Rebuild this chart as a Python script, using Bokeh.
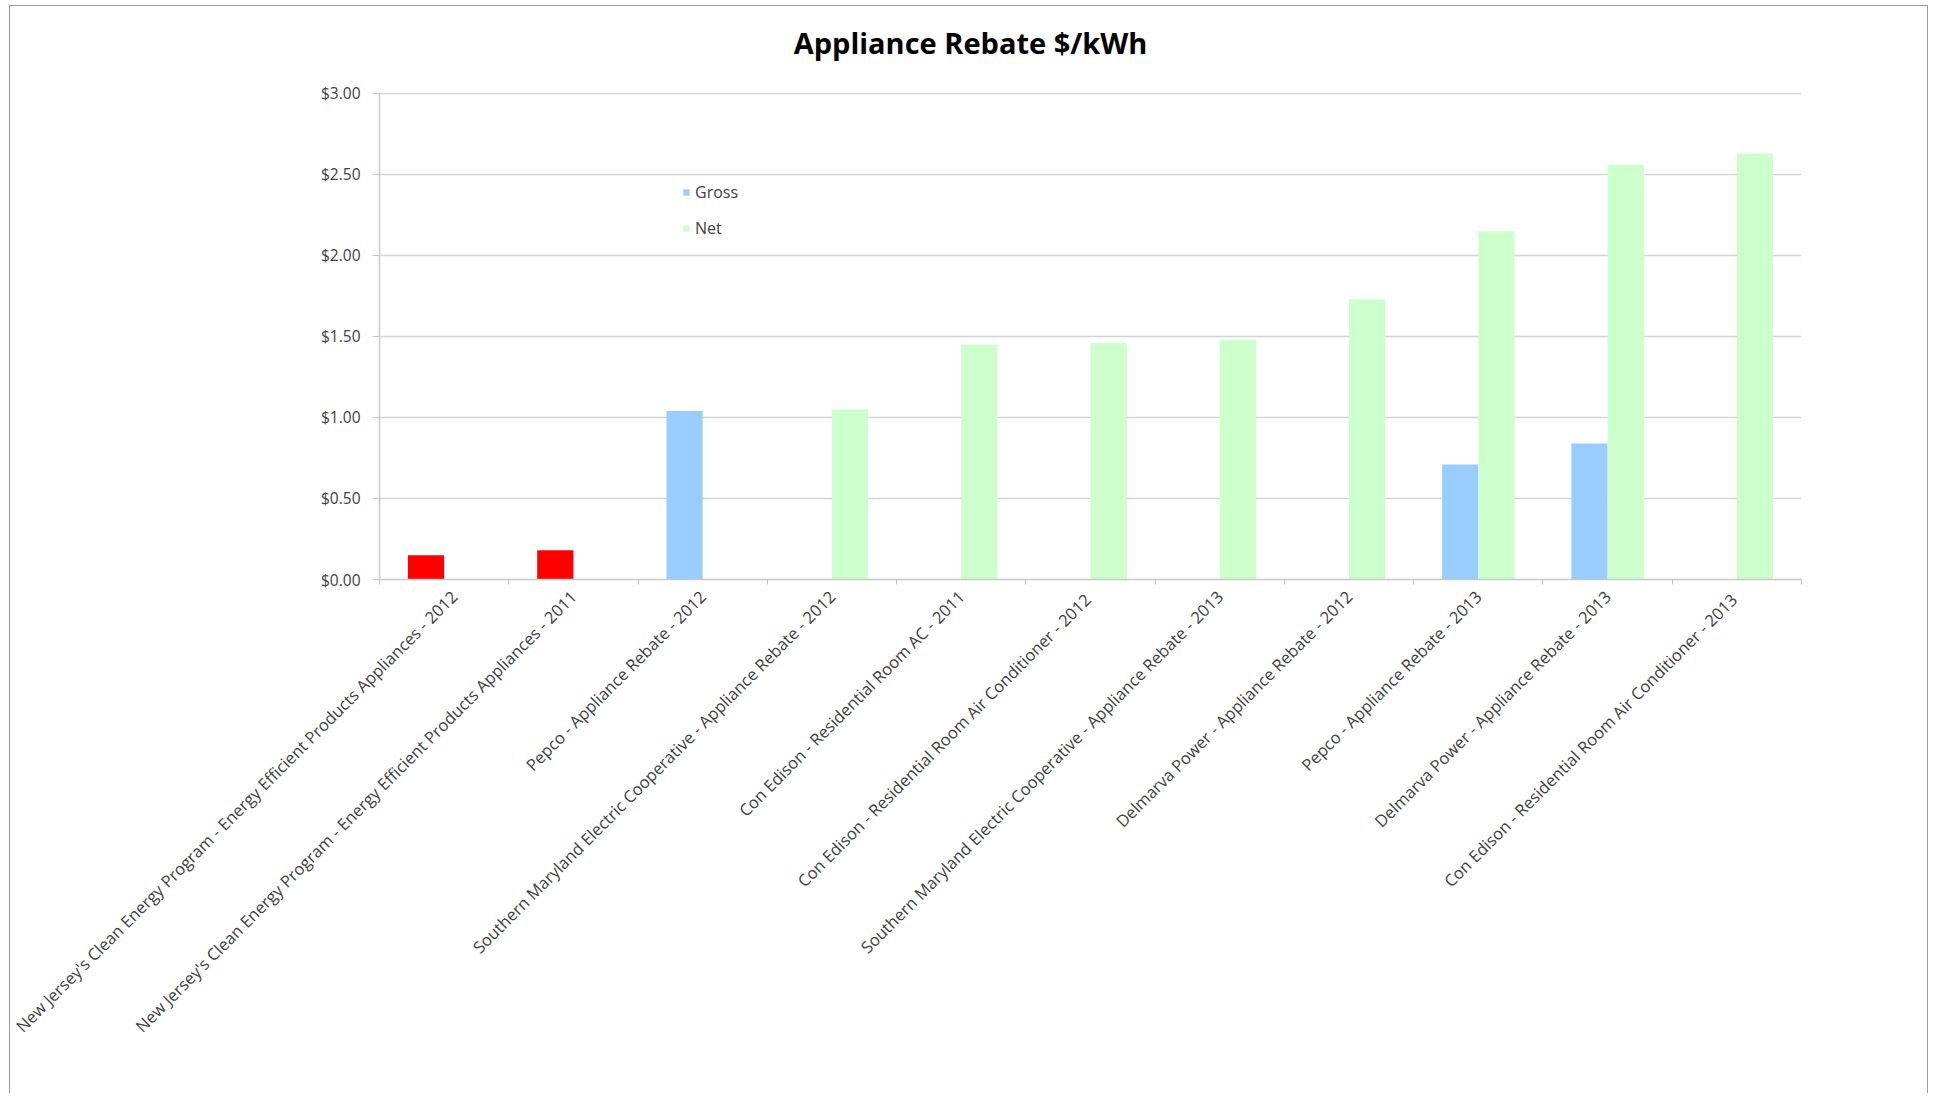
import numpy as np
from bokeh.plotting import figure
from bokeh.models import (FixedTicker, NumeralTickFormatter, Legend, LegendItem,
                          ColumnDataSource, Range1d, Label)
from bokeh.embed import file_html
from bokeh.resources import INLINE

title_text = "Appliance Rebate $/kWh"
categories = [
    "New Jersey's Clean Energy Program - Energy Efficient Products Appliances - 2012",
    "New Jersey's Clean Energy Program - Energy Efficient Products Appliances - 2011",
    "Pepco - Appliance Rebate - 2012",
    "Southern Maryland Electric Cooperative - Appliance Rebate - 2012",
    "Con Edison - Residential Room AC - 2011",
    "Con Edison - Residential Room Air Conditioner  - 2012",
    "Southern Maryland Electric Cooperative - Appliance Rebate - 2013",
    "Delmarva Power - Appliance Rebate - 2012",
    "Pepco - Appliance Rebate - 2013",
    "Delmarva Power - Appliance Rebate - 2013",
    "Con Edison - Residential Room Air Conditioner  - 2013",
]
gross = [0.15, 0.18, 1.04, None, None, None, None, None, 0.71, 0.84, None]
net = [None, None, None, 1.05, 1.45, 1.46, 1.48, 1.73, 2.15, 2.56, 2.63]
gross_colors = ["#FF0000", "#FF0000", "#99CCFF", "#99CCFF", "#99CCFF", "#99CCFF",
                "#99CCFF", "#99CCFF", "#99CCFF", "#99CCFF", "#99CCFF"]
net_color = "#CCFFCC"
y_ticks = [0.0, 0.5, 1.0, 1.5, 2.0, 2.5, 3.0]

FONT = "Open Sans"
n = len(categories)
centers = np.arange(n) + 0.5
bw = 0.28

def clean(v):
    return [np.nan if x is None else x for x in v]

src_g = ColumnDataSource(dict(x=centers - bw / 2, top=clean(gross), color=gross_colors))
src_n = ColumnDataSource(dict(x=centers + bw / 2, top=clean(net)))

# the frame reaches up into the title band; the value axis itself stops at $3.00
p = figure(width=1919, height=1088, output_backend="svg", toolbar_location=None,
           title=None, x_range=Range1d(0, n), y_range=Range1d(0, 3.475),
           min_border_left=369, min_border_right=128, min_border_top=10,
           min_border_bottom=515)

# chart title, centred over the whole chart (screen units relative to the frame)
p.add_layout(Label(x=591, y=537, x_units="screen", y_units="screen", text=title_text,
                   text_align="center", text_baseline="middle", text_font=FONT,
                   text_font_size="29px", text_font_style="bold", text_color="#000000"))

rg = p.vbar(x="x", top="top", width=bw, bottom=0, source=src_g,
            fill_color="color", line_color=None)
rn = p.vbar(x="x", top="top", width=bw, bottom=0, source=src_n,
            fill_color=net_color, line_color=None)

legend = Legend(items=[LegendItem(label="Gross", renderers=[rg], index=2),
                       LegendItem(label="Net", renderers=[rn])],
                location=(303, 340), padding=0, margin=0, spacing=14,
                glyph_width=8, glyph_height=8, label_height=20, label_standoff=5,
                label_text_font=FONT, label_text_font_size="16px",
                label_text_color="#404040", background_fill_alpha=0,
                border_line_color=None)
p.add_layout(legend, "center")

p.outline_line_color = None
p.xgrid.grid_line_color = None
p.ygrid.grid_line_color = "#d4d4d4"
p.ygrid.grid_line_width = 1.5

xa = p.xaxis[0]
xa.ticker = FixedTicker(ticks=list(centers), minor_ticks=list(range(n + 1)))
xa.major_label_overrides = {float(c): lab for c, lab in zip(centers, categories)}
xa.major_label_orientation = np.pi / 4
xa.major_tick_line_color = None
xa.minor_tick_line_color = "#bfbfbf"
xa.minor_tick_out = 5
xa.minor_tick_in = 0
xa.axis_line_color = "#c8c8c8"
xa.axis_line_width = 1.5
xa.major_label_text_font = FONT
xa.major_label_text_font_size = "16.5px"
xa.major_label_text_color = "#404040"
xa.major_label_standoff = 8

ya = p.yaxis[0]
ya.ticker = FixedTicker(ticks=y_ticks)
ya.bounds = (0, 3)
ya.formatter = NumeralTickFormatter(format="$0.00")
ya.axis_line_color = "#c8c8c8"
ya.axis_line_width = 1.5
ya.major_tick_line_color = "#c8c8c8"
ya.major_tick_out = 7
ya.major_tick_in = 0
ya.minor_tick_line_color = None
ya.major_label_text_font = FONT
ya.major_label_text_font_size = "15.5px"
ya.major_label_text_color = "#404040"
ya.major_label_standoff = 12

p.styles = {"border": "1px solid #9a9a9a", "border-bottom": "none",
            "box-sizing": "border-box", "margin-left": "9px", "margin-top": "5px"}

open("out.html", "w").write(file_html(p, INLINE))
